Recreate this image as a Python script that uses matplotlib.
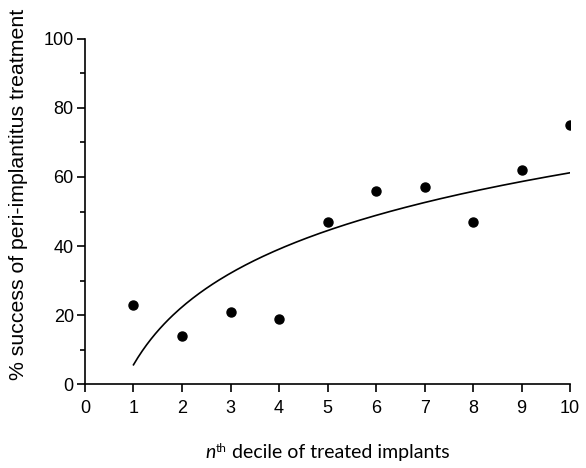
import numpy as np
import matplotlib
matplotlib.use("Agg")
import matplotlib.pyplot as plt
from matplotlib.ticker import MultipleLocator

# deciles of treated implants and % success
decile = np.array([1, 2, 3, 4, 5, 6, 7, 8, 9, 10])
success = np.array([23, 14, 21, 19, 47, 56, 57, 47, 62, 75])

# logarithmic fit y = a + b*ln(x)
b, a = np.polyfit(np.log(decile), success, 1)
xs = np.linspace(1, 10, 200)
ys = a + b * np.log(xs)

plt.rcParams['font.family'] = ['Liberation Sans', 'DejaVu Sans']

fig = plt.figure(figsize=(5.86, 4.68), dpi=100)
ax = fig.add_axes([0.145, 0.179, 0.828, 0.738])

ax.plot(xs, ys, color='black', lw=1.2)
ax.plot(decile, success, 'o', color='black', ms=6.5)

ax.set_xlim(0, 10)
ax.set_ylim(0, 100)
ax.xaxis.set_major_locator(MultipleLocator(1))
ax.yaxis.set_major_locator(MultipleLocator(20))
ax.yaxis.set_minor_locator(MultipleLocator(10))

for s in ['top', 'right']:
    ax.spines[s].set_visible(False)
for s in ['left', 'bottom']:
    ax.spines[s].set_linewidth(1.2)

ax.tick_params(which='major', direction='out', length=6, width=1.2, labelsize=13, pad=2)
ax.tick_params(axis='x', which='major', pad=5)
ax.tick_params(which='minor', direction='out', length=3.5, width=1.2)

ax.set_ylabel('% success of peri-implantitus treatment', fontsize=15.3)
ax.yaxis.set_label_coords(-0.118, 0.55)

# x label built from pieces so the superscript can be small
lato = ['Lato', 'DejaVu Sans']
base_y = 0.021
parts = [('n', 14, 'italic', 0.0), ('th', 8.5, 'normal', 0.013),
         (' decile of treated implants', 14, 'normal', 0.0)]
fig.canvas.draw()
r = fig.canvas.get_renderer()
texts = []
for s, fs, st, dy in parts:
    t = fig.text(0, base_y + dy, s, fontsize=fs, style=st, family=lato,
                 va='baseline', ha='left')
    texts.append(t)
widths = [t.get_window_extent(r).width / fig.bbox.width for t in texts]
x = (0.145 + 0.145 + 0.828) / 2 - sum(widths) / 2
for t, w in zip(texts, widths):
    t.set_x(x)
    x += w

fig.savefig('out.png', dpi=100)
